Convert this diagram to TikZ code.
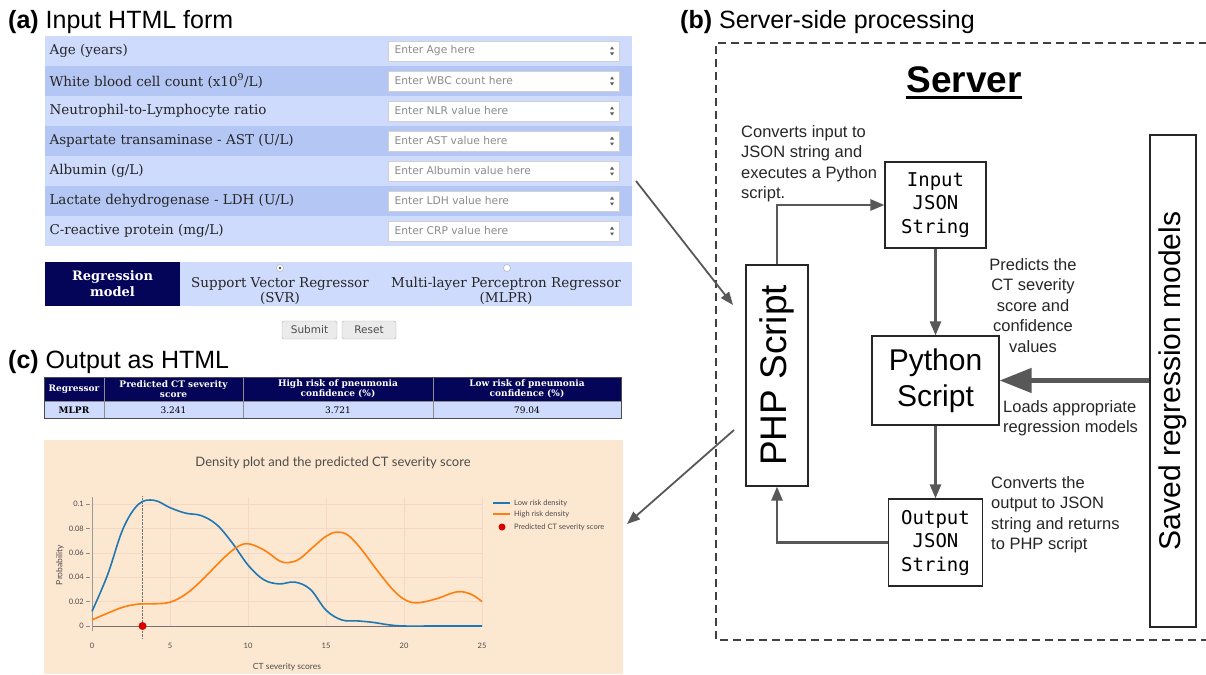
\documentclass[tikz,border=0pt]{standalone}
\usepackage{fontspec}
\usepackage{graphicx}
\setmainfont{Liberation Sans}
\newfontfamily\formfont{DejaVu Serif}
\newfontfamily\hintfont{DejaVu Sans}
\newfontfamily\codefont{DejaVu Sans Mono}
\newfontfamily\plotfont{Lato}
\usetikzlibrary{arrows.meta}

\definecolor{rowlight}{RGB}{206,219,252}
\definecolor{rowdark}{RGB}{180,198,243}
\definecolor{navyhead}{RGB}{4,4,88}
\definecolor{peach}{RGB}{252,231,208}
\definecolor{gridpink}{RGB}{246,214,196}
\definecolor{flowgray}{RGB}{88,88,88}
\definecolor{lowblue}{RGB}{31,119,180}
\definecolor{highorange}{RGB}{255,127,14}

\newcommand{\fsz}[2]{\fontsize{#1}{#2}\selectfont}

\begin{document}
\begin{tikzpicture}[x=1pt,y=-1pt,
  panel/.style={anchor=base west,inner sep=0pt,font=\fsz{25}{30}},
  formlab/.style={anchor=west,font=\formfont\fsz{13.5}{15},text=black!85},
  hint/.style={anchor=west,font=\hintfont\fsz{10.7}{12},text=black!45},
  radiolab/.style={align=center,font=\formfont\fsz{13.5}{14.5},text=black!85},
  button/.style={draw=black!30,fill=black!8,rounded corners=1.5pt,inner sep=0pt,
    minimum height=18pt,font=\hintfont\fsz{10.5}{12},text=black!70},
  headcell/.style={align=center,font=\formfont\bfseries\fsz{9}{10.5},text=white},
  datacell/.style={font=\formfont\fsz{9}{10}},
  ticklab/.style={font=\plotfont\fsz{7.5}{8},text=black!70},
  legendlab/.style={anchor=west,inner sep=2pt,font=\plotfont\fsz{7.5}{9},text=black!70},
  procbox/.style={draw=black!85,line width=1.1pt,fill=white,inner sep=0pt,align=center},
  note/.style={inner sep=0pt,font=\fsz{16.5}{20.5},text=black!85},
  flow/.style={draw=flowgray,line width=2.6pt,-{Triangle[length=14pt,width=11pt]}},
  link/.style={draw=flowgray,line width=1.8pt,-{Triangle[length=13pt,width=10pt]}}]
\useasboundingbox (0,0) rectangle (1206,674);

% (a) input form
\node[panel] (atitle) at (8,29) {\textbf{(a)} Input HTML form};
\fill[rowlight] (45,36) rectangle (632,246);
\foreach \y in {66,126,186} \fill[rowdark] (45,\y) rectangle (632,\y+30);
\foreach \y in {51,81,...,231} {
  \draw[black!18,fill=white] (388,\y-10) rectangle (619,\y+10);
  \fill[black!65] (610,\y-1.5) -- (614,\y-1.5) -- (612,\y-4.5) -- cycle;
  \fill[black!65] (610,\y+1.5) -- (614,\y+1.5) -- (612,\y+4.5) -- cycle;
}
\node[formlab] (agelab) at (46,51) {Age (years)};
\node[formlab] (wbclab) at (46,81) {White blood cell count (x10\textsuperscript{9}/L)};
\node[formlab] (nlrlab) at (46,111) {Neutrophil-to-Lymphocyte ratio};
\node[formlab] (astlab) at (46,141) {Aspartate transaminase - AST (U/L)};
\node[formlab] (alblab) at (46,171) {Albumin (g/L)};
\node[formlab] (ldhlab) at (46,201) {Lactate dehydrogenase - LDH (U/L)};
\node[formlab] (crplab) at (46,231) {C-reactive protein (mg/L)};
\node[hint] (agehint) at (391,51) {Enter Age here};
\node[hint] (wbchint) at (391,81) {Enter WBC count here};
\node[hint] (nlrhint) at (391,111) {Enter NLR value here};
\node[hint] (asthint) at (391,141) {Enter AST value here};
\node[hint] (albhint) at (391,171) {Enter Albumin value here};
\node[hint] (ldhhint) at (391,201) {Enter LDH value here};
\node[hint] (crphint) at (391,231) {Enter CRP value here};

\fill[navyhead] (45,262) rectangle (180,306);
\fill[rowlight] (180,262) rectangle (632,306);
\node[radiolab,font=\formfont\bfseries\fsz{13}{16},text=white] (regmodel) at (112.5,284) {Regression\\model};
\draw[black!35,fill=white] (280,268) circle (3.5);
\fill[black!75] (280,268) circle (1.4);
\draw[black!35,fill=white] (507,268) circle (3.5);
\node[radiolab] (svr) at (280,291) {Support Vector Regressor\\(SVR)};
\node[radiolab] (mlpr) at (506,291) {Multi-layer Perceptron Regressor\\(MLPR)};
\node[button,minimum width=55pt] (submit) at (309.5,330) {Submit};
\node[button,minimum width=54pt] (reset) at (369,330) {Reset};

% (c) output
\node[panel] (ctitle) at (8,368) {\textbf{(c)} Output as HTML};
\fill[navyhead] (44,377) rectangle (621,401);
\fill[rowlight] (44,401) rectangle (621,418);
\foreach \x in {104,243,433} \draw[black!45] (\x,377) -- (\x,418);
\draw[black!45] (44,401) -- (621,401);
\draw[black!70] (44,377) rectangle (621,418);
\node[headcell] (reghead) at (74,389) {Regressor};
\node[headcell] (cthead) at (173.5,389) {Predicted CT severity\\score};
\node[headcell] (highhead) at (338,389) {High risk of pneumonia\\confidence (\%)};
\node[headcell] (lowhead) at (527,389) {Low risk of pneumonia\\confidence (\%)};
\node[datacell] (regval) at (74,410) {\textbf{MLPR}};
\node[datacell] (ctval) at (173.5,410) {3.241};
\node[datacell] (highval) at (338,410) {3.721};
\node[datacell] (lowval) at (527,410) {79.04};

\fill[peach] (44,440) rectangle (623,674);
\node[font=\plotfont\fsz{13}{15},text=black!70] (plottitle) at (333,463) {Density plot and the predicted CT severity score};
\begin{scope}[shift={(92,626)},x=15.6pt,y=1220pt]
  \foreach \x in {0,5,...,25} \draw[gridpink] (\x,0) -- (\x,0.106);
  \foreach \v in {0.02,0.04,0.06,0.08,0.1} \draw[gridpink] (0,\v) -- (25,\v);
  \draw[black!55,line width=0.8pt] (0,0) -- (25,0);
  \draw[black!40] (0,-0.004) -- (0,0.106);
  \foreach \x in {0,5,...,25} \node[ticklab] (xtick\x) at (\x,-0.016) {\x};
  \foreach \v [count=\k] in {0,0.02,0.04,0.06,0.08,0.1} {
    \draw[black!45] (-0.4,\v) -- (-0.1,\v);
    \node[ticklab,anchor=east,inner sep=1pt] (ytick\k) at (-0.45,\v) {\v};
  }
  \draw[black!55,densely dotted] (3.241,-0.01) -- (3.241,0.107);
  \draw[lowblue,line width=1.6pt] plot[smooth,tension=0.6] coordinates {(0,0.012) (1,0.042)
    (2,0.08) (3,0.1) (4,0.103) (5,0.097) (6,0.0925) (7,0.0905) (8,0.083) (9,0.068)
    (10,0.05) (11,0.038) (12,0.0345) (13,0.036) (14,0.03) (15,0.013) (16,0.005)
    (17,0.0042) (18,0.003) (19,0.001) (20,0) (22,0) (25,0)};
  \draw[highorange,line width=1.6pt] plot[smooth,tension=0.6] coordinates {(0,0.005)
    (1,0.0105) (2,0.0155) (3,0.018) (4,0.0182) (5,0.0195) (6,0.026) (7,0.037) (8,0.05)
    (9,0.062) (9.9,0.0675) (11,0.0625) (12,0.0535) (12.6,0.052) (13.3,0.055) (14.2,0.065)
    (15,0.0735) (15.7,0.077) (16.4,0.0745) (17.2,0.064) (18.2,0.047) (19.2,0.031)
    (20,0.022) (20.8,0.019) (22,0.022) (23.4,0.028) (24.3,0.026) (25,0.02)};
  \fill[red!85!black] (3.241,0) circle (4pt);
\end{scope}
\draw[lowblue,line width=1.6pt] (493,503) -- (510,503);
\node[legendlab] (lowleg) at (512,503) {Low risk density};
\draw[highorange,line width=1.6pt] (493,514) -- (510,514);
\node[legendlab] (highleg) at (512,514) {High risk density};
\fill[red!85!black] (502,527) circle (3.5pt);
\node[legendlab] (predleg) at (512,527) {Predicted CT severity score};
\node[font=\plotfont\fsz{8.5}{10},text=black!70] (xtitle) at (287,667) {CT severity scores};
\node[font=\plotfont\fsz{8.5}{10},text=black!70,rotate=90] (ytitle) at (60,565) {Probability};

% (b) server
\node[panel] (btitle) at (680,29) {\textbf{(b)} Server-side processing};
\draw[black!75,line width=1.2pt,dash pattern=on 8pt off 5pt] (1207,43) -- (716,43) -- (716,640) -- (1207,640);
\node[anchor=base,inner sep=0pt,font=\bfseries\fsz{37}{40}] (server) at (964,93) {Server};
\draw[line width=2.5pt] ([yshift=-4.5pt]server.base west) -- ([yshift=-4.5pt]server.base east);

\node[procbox,minimum width=62pt,minimum height=221pt] (php) at (777,375.5) {\rotatebox{90}{\fsz{37}{37}PHP Script}};
\node[procbox,minimum width=101pt,minimum height=86pt,font=\codefont\fsz{19}{23.5}] (injson) at (935.5,205) {Input\\JSON\\String};
\node[procbox,minimum width=127pt,minimum height=89pt,font=\fsz{30}{36}] (pyscript) at (935.5,380.5) {Python\\Script};
\node[procbox,minimum width=94pt,minimum height=87pt,font=\codefont\fsz{19}{23.5}] (outjson) at (935.5,542.5) {Output\\JSON\\String};
\node[procbox,minimum width=46pt,minimum height=492pt] (saved) at (1173,381) {\rotatebox{90}{\fsz{30}{30}Saved regression models}};

\node[note,anchor=north west,align=left] (convin) at (741,125) {Converts input to\\JSON string and\\executes a Python\\script.};
\node[note,anchor=north,align=center] (predicts) at (1033,258) {Predicts the\\CT severity\\score and\\confidence\\values};
\node[note,anchor=north west,align=left] (loads) at (1003,400) {Loads appropriate\\regression models};
\node[note,anchor=north west,align=left] (convout) at (991,476) {Converts the\\output to JSON\\string and returns\\to PHP script};

\draw[flow] (php.north) |- (injson.west);
\draw[flow] (injson.south) -- (pyscript.north);
\draw[flow] (pyscript.south) -- (outjson.north);
\draw[flow] (outjson.west) -| (php.south);
\draw[draw=flowgray,line width=4.5pt,-{Triangle[length=32pt,width=24pt]}] (saved.west |- pyscript.east) -- (pyscript.east);

% links between panels
\coordinate (formout) at (636,181);
\coordinate (phpin) at (733,305);
\coordinate (phpout) at (734,430);
\coordinate (plotin) at (627,524);
\draw[link] (formout) -- (phpin);
\draw[link] (phpout) -- (plotin);
\end{tikzpicture}
\end{document}
